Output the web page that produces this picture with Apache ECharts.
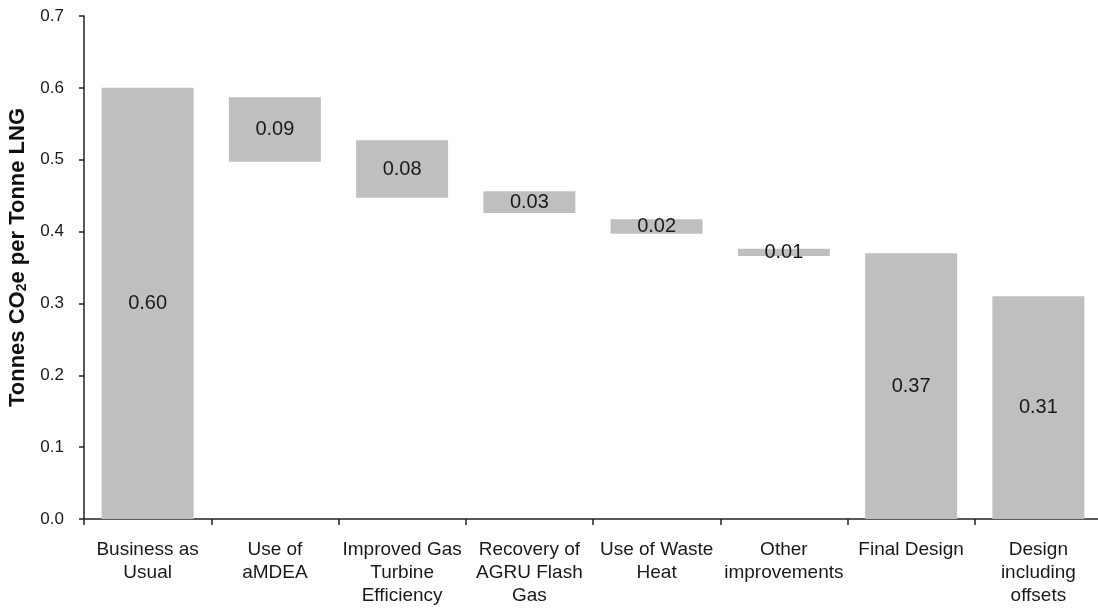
<!DOCTYPE html>
<html>
<head>
<meta charset="utf-8">
<title>LNG emissions waterfall</title>
<script src="https://cdn.jsdelivr.net/npm/echarts@6/dist/echarts.min.js"></script>
<style>
  html, body { margin: 0; padding: 0; background: #ffffff; }
  #chart { width: 1098px; height: 609px; }
</style>
</head>
<body>
<div id="chart"></div>
<script>
// Emission intensity steps, tonnes CO2e per tonne LNG
const categories = [
  'Business as\nUsual',
  'Use of\naMDEA',
  'Improved Gas\nTurbine\nEfficiency',
  'Recovery of\nAGRU Flash\nGas',
  'Use of Waste\nHeat',
  'Other\nimprovements',
  'Final Design',
  'Design\nincluding\noffsets'
];
// Invisible floor under each step (0 for the total bars)
const barBase = [0, 0.497, 0.447, 0.426, 0.397, 0.366, 0, 0];
// Visible height of each bar, as stated by its label
const barValue = [0.60, 0.09, 0.08, 0.03, 0.02, 0.01, 0.37, 0.31];
// Value axis ticks
const yTicks = [0, 0.1, 0.2, 0.3, 0.4, 0.5, 0.6, 0.7];

const FONT = '"Liberation Sans", Arial, sans-serif';
const chart = echarts.init(document.getElementById('chart'), null, { renderer: 'canvas' });

chart.setOption({
  animation: false,
  backgroundColor: '#ffffff',
  textStyle: { fontFamily: FONT },
  grid: {
    left: 84, top: 16, bottom: 90, width: 1018,
    containLabel: false,
    outerBoundsMode: 'none'
  },
  xAxis: {
    type: 'category',
    data: categories,
    axisLine: { show: true, lineStyle: { color: '#222', width: 1.5 } },
    axisTick: { show: true, length: 6, lineStyle: { color: '#222', width: 1.5 } },
    axisLabel: {
      interval: 0,
      margin: 19,
      color: '#1a1a1a',
      fontSize: 19,
      lineHeight: 23,
      fontFamily: FONT
    }
  },
  yAxis: {
    type: 'value',
    min: yTicks[0],
    max: yTicks[yTicks.length - 1],
    interval: 0.1,
    name: '{t|Tonnes CO}{s|2}{t|e per Tonne LNG}',
    nameLocation: 'middle',
    nameGap: 52,
    nameRotate: 90,
    nameTextStyle: {
      padding: [0, 0, 0, 20],
      rich: {
        t: { fontSize: 22, fontWeight: 'bold', color: '#111', fontFamily: FONT, lineHeight: 24, verticalAlign: 'middle' },
        s: { fontSize: 14, fontWeight: 'bold', color: '#111', fontFamily: FONT, lineHeight: 24, verticalAlign: 'bottom' }
      }
    },
    splitLine: { show: false },
    axisLine: { show: true, lineStyle: { color: '#222', width: 1.5 } },
    axisTick: { show: true, length: 5, lineStyle: { color: '#222', width: 1.5 } },
    axisLabel: {
      margin: 20,
      color: '#1a1a1a',
      fontSize: 17,
      fontFamily: FONT,
      formatter: v => v.toFixed(1)
    }
  },
  series: [
    {
      name: 'base',
      type: 'bar',
      stack: 'w',
      data: barBase,
      barWidth: 92,
      itemStyle: { color: 'rgba(0,0,0,0)' },
      emphasis: { disabled: true },
      silent: true
    },
    {
      name: 'value',
      type: 'bar',
      stack: 'w',
      data: barValue,
      barWidth: 92,
      itemStyle: { color: '#bfbfbf' },
      label: {
        show: true,
        position: 'inside',
        color: '#1a1a1a',
        fontSize: 20,
        fontFamily: FONT,
        formatter: p => p.value.toFixed(2)
      }
    }
  ]
});
</script>
</body>
</html>
